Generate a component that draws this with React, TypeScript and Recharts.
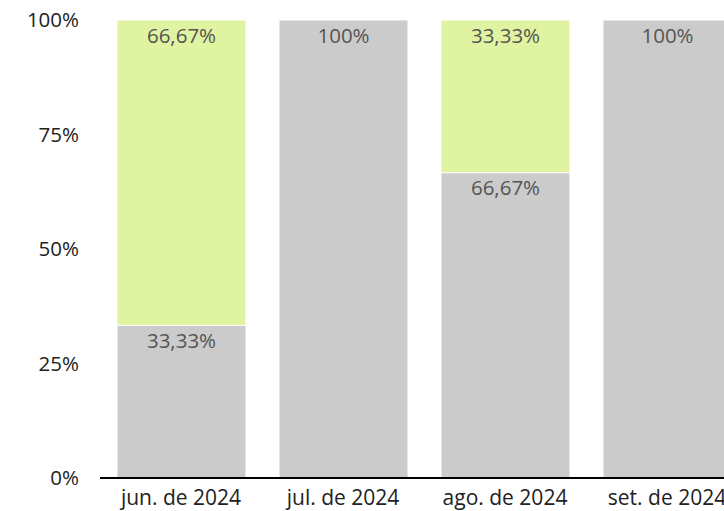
import React from "react";
import { BarChart, Bar, XAxis, YAxis, LabelList } from "recharts";

const categories = ["jun. de 2024", "jul. de 2024", "ago. de 2024", "set. de 2024"];
const grayValues = [33.33, 100, 66.67, 100];
const greenValues = [66.67, 0, 33.33, 0];
const yTicks = [0, 25, 50, 75, 100];

const data = categories.map((c, i) => ({ name: c, gray: grayValues[i], green: greenValues[i] }));

const fmt = (v: any) => {
  const n = Number(v);
  if (!n) return "";
  if (n === 100) return "100%";
  return n.toFixed(2).replace(".", ",") + "%";
};

const FONT = "'Open Sans', sans-serif";

export default function App() {
  return (
    <div style={{ position: "absolute", left: 0, top: 0, width: 724, height: 511, overflow: "hidden", background: "#fff" }}>
      <BarChart
        width={760}
        height={511}
        data={data}
        margin={{ top: 20, right: 12, bottom: 0, left: 0 }}
        barSize={129}
        style={{ fontFamily: FONT }}
      >
        <XAxis
          dataKey="name"
          height={33}
          tickLine={false}
          axisLine={{ stroke: "#000", strokeWidth: 2 }}
          tick={{ fill: "#222", fontSize: 21, fontFamily: FONT }}
          tickMargin={6}
          interval={0}
        />
        <YAxis
          width={100}
          domain={[0, 100]}
          ticks={yTicks}
          tickFormatter={(v: number) => `${v}%`}
          axisLine={false}
          tickLine={false}
          tickMargin={15}
          tick={{ fill: "#222", fontSize: 20.5, fontFamily: FONT }}
        />
        <Bar dataKey="gray" stackId="a" fill="#cbcbcb" stroke="#fff" strokeWidth={1} isAnimationActive={false}>
          <LabelList dataKey="gray" position="insideTop" offset={8} formatter={fmt} fill="#555" fontSize={20.5} fontFamily={FONT} />
        </Bar>
        <Bar dataKey="green" stackId="a" fill="#e0f3a0" stroke="#fff" strokeWidth={1} isAnimationActive={false}>
          <LabelList dataKey="green" position="insideTop" offset={8} formatter={fmt} fill="#555" fontSize={20.5} fontFamily={FONT} />
        </Bar>
      </BarChart>
    </div>
  );
}
